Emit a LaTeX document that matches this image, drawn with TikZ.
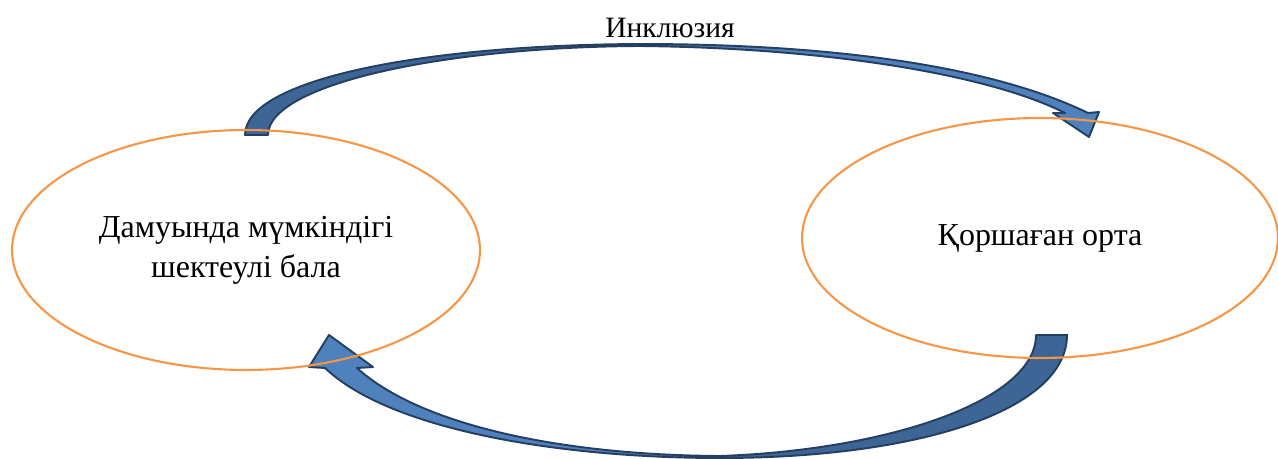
\documentclass[tikz,border=0pt]{standalone}
\usepackage{fontspec}
\setmainfont{Liberation Serif}
\usetikzlibrary{shapes.geometric}
\definecolor{cring}{RGB}{247,150,70}
\definecolor{carrow}{RGB}{79,129,189}
\definecolor{cback}{RGB}{61,101,150}
\definecolor{cedge}{RGB}{36,63,96}
\newcommand{\topArrow}{(245,135) .. controls (245,80) and (420,45) .. (640,44)
  .. controls (850,44) and (1000,70) .. (1088,113) -- (1099,112) -- (1089,137)
  -- (1053,113) -- (1065,113) .. controls (990,75) and (830,48) .. (640,46)
  .. controls (440,47) and (268,85) .. (268,135) -- cycle}
\newcommand{\bottomArrow}{(1067,335) .. controls (1067,410) and (920,458) .. (720,458)
  .. controls (560,458) and (390,430) .. (325,368) -- (309,367) -- (329,335)
  -- (373,367) -- (357,368) .. controls (420,425) and (560,455) .. (720,456)
  .. controls (890,450) and (1036,400) .. (1036,335) -- cycle}

\begin{document}
\begin{tikzpicture}[x=0.02cm, y=-0.02cm, font=\fontsize{18.2}{22.7}\selectfont,
  ring/.style={ellipse, draw=cring, line width=1.2pt, minimum height=4.8cm,
    align=center, inner sep=0pt},
  band/.style={draw=cedge, line width=1.1pt, line join=round}]
  \useasboundingbox (0,0) rectangle (1278,459);
  % top arrow
  \fill[carrow] \topArrow;
  \begin{scope}
    \clip (0,0) rectangle (640,459);
    \fill[cback] \topArrow;
  \end{scope}
  \draw[band] \topArrow;
  % bottom arrow
  \fill[carrow] \bottomArrow;
  \begin{scope}
    \clip (720,0) rectangle (1278,459);
    \fill[cback] \bottomArrow;
  \end{scope}
  \draw[band] \bottomArrow;
  \node[ring, minimum width=9.36cm] (child) at (246,250) {Дамуында мүмкіндігі\\шектеулі бала};
  \node[ring, minimum width=9.52cm] (env) at (1040,238) {Қоршаған орта};
  \node[font=\fontsize{16.8}{20}\selectfont] (incl) at (670,28) {Инклюзия};
\end{tikzpicture}
\end{document}
